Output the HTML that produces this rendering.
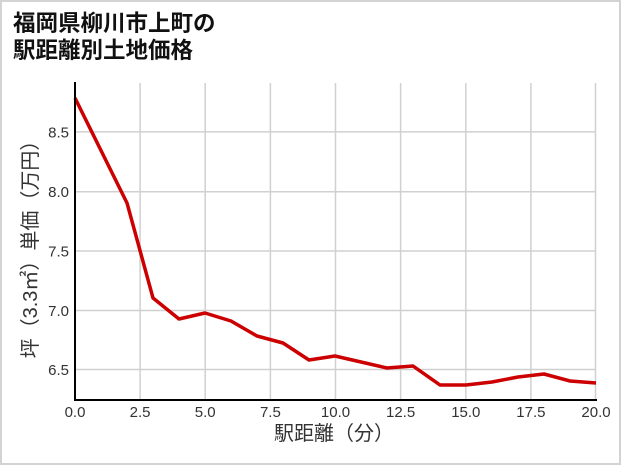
<!DOCTYPE html>
<html><head><meta charset="utf-8"><style>
html,body{margin:0;padding:0;background:#fff;}
svg{display:block;}
</style></head><body>
<svg width="621" height="465" viewBox="0 0 621 465" xmlns="http://www.w3.org/2000/svg">
<rect x="1" y="1" width="619" height="463" fill="#fff" stroke="#d3d3d3" stroke-width="2"/>
<g font-family="'Liberation Sans','Noto Sans CJK JP',sans-serif" font-weight="bold" font-size="22.5" fill="#111">
<text x="13" y="31">福岡県柳川市上町の</text>
<text x="13" y="58">駅距離別土地価格</text>
</g>
<g stroke="#d0d0d0" stroke-width="1.5">
<line x1="140.1" y1="83" x2="140.1" y2="400"/>
<line x1="205.2" y1="83" x2="205.2" y2="400"/>
<line x1="270.4" y1="83" x2="270.4" y2="400"/>
<line x1="335.5" y1="83" x2="335.5" y2="400"/>
<line x1="400.6" y1="83" x2="400.6" y2="400"/>
<line x1="465.8" y1="83" x2="465.8" y2="400"/>
<line x1="530.9" y1="83" x2="530.9" y2="400"/>
<line x1="595.5" y1="83" x2="595.5" y2="400"/>
<line x1="75" y1="369.5" x2="596" y2="369.5"/>
<line x1="75" y1="310.5" x2="596" y2="310.5"/>
<line x1="75" y1="251" x2="596" y2="251"/>
<line x1="75" y1="191.7" x2="596" y2="191.7"/>
<line x1="75" y1="131.9" x2="596" y2="131.9"/>
</g>
<polyline fill="none" stroke="#cc0000" stroke-width="3.5" stroke-linejoin="round" points="75,98 127,203 153,298 179,319 205,313 231,321 257,336 283,343 309,360 335,356 361,362 387,368 413,366 440,385 466,385 492,382 518,377 544,374 570,381 596,383"/>
<line x1="75" y1="82" x2="75" y2="401" stroke="#000" stroke-width="2"/>
<line x1="74" y1="400" x2="597" y2="400" stroke="#000" stroke-width="2"/>
<g font-family="'Liberation Sans','Noto Sans CJK JP',sans-serif" font-size="15" fill="#333" text-anchor="middle">
<text x="75" y="417">0.0</text>
<text x="140.1" y="417">2.5</text>
<text x="205.2" y="417">5.0</text>
<text x="270.4" y="417">7.5</text>
<text x="335.5" y="417">10.0</text>
<text x="400.6" y="417">12.5</text>
<text x="465.8" y="417">15.0</text>
<text x="530.9" y="417">17.5</text>
<text x="596" y="417">20.0</text>
</g>
<g font-family="'Liberation Sans','Noto Sans CJK JP',sans-serif" font-size="15" fill="#333" text-anchor="end">
<text x="69" y="375">6.5</text>
<text x="69" y="316">7.0</text>
<text x="69" y="256.5">7.5</text>
<text x="69" y="197.2">8.0</text>
<text x="69" y="137.4">8.5</text>
</g>
<text x="334" y="440" font-family="'Liberation Sans','Noto Sans CJK JP',sans-serif" font-size="20" fill="#333" text-anchor="middle">駅距離（分）</text>
<text transform="translate(37,244.5) rotate(-90)" x="0" y="0" font-family="'Liberation Sans','Noto Sans CJK JP',sans-serif" font-size="20" fill="#333" text-anchor="middle">坪（3.3㎡）単価（万円）</text>
</svg>
</body></html>
